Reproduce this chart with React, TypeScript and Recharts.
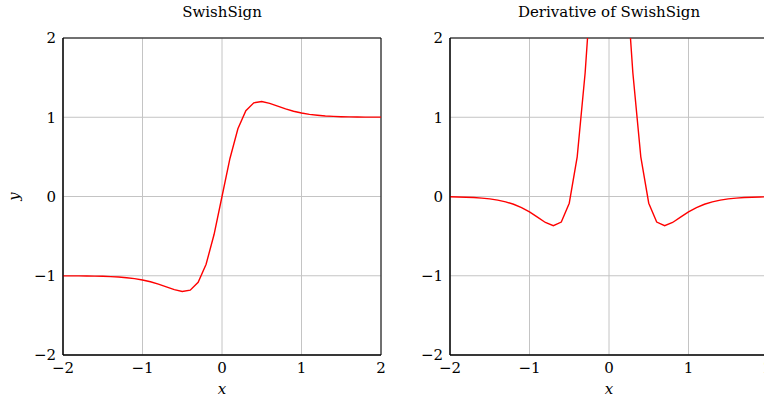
import { LineChart, Line, XAxis, YAxis, CartesianGrid, ReferenceArea, Label } from 'recharts';

const xs = [
  -2.0, -1.9, -1.8, -1.7, -1.6, -1.5, -1.4, -1.3, -1.2, -1.1, -1.0, -0.9, -0.8, -0.7, -0.6, -0.5, -0.4, -0.3, -0.2, -0.1,
  0.0, 0.1, 0.2, 0.3, 0.4, 0.5, 0.6, 0.7, 0.8, 0.9, 1.0, 1.1, 1.2, 1.3, 1.4, 1.5, 1.6, 1.7, 1.8, 1.9, 2.0,
];

const swishSign = [
  -1.001, -1.001, -1.002, -1.003, -1.005, -1.007, -1.011, -1.016, -1.025, -1.036, -1.053, -1.076, -1.105, -1.14, -1.176,
  -1.199, -1.182, -1.083, -0.855, -0.48, 0.0, 0.48, 0.855, 1.083, 1.182, 1.199, 1.176, 1.14, 1.105, 1.076, 1.053, 1.036,
  1.025, 1.016, 1.011, 1.007, 1.005, 1.003, 1.002, 1.001, 1.001,
];

const swishSignDeriv = [
  -0.004, -0.006, -0.009, -0.013, -0.02, -0.03, -0.045, -0.067, -0.098, -0.14, -0.195, -0.261, -0.328, -0.368, -0.323,
  -0.085, 0.501, 1.562, 3.024, 4.412, 5.0, 4.412, 3.024, 1.562, 0.501, -0.085, -0.323, -0.368, -0.328, -0.261, -0.195,
  -0.14, -0.098, -0.067, -0.045, -0.03, -0.02, -0.013, -0.009, -0.006, -0.004,
];

const ticks = [-2, -1, 0, 1, 2];

const FONT = 'DejaVu Serif, Liberation Serif, serif';
const fmt = (v: number) => (v < 0 ? `\u2212${-v}` : `${v}`);

function Panel({ title, values, left, yLabel }: { title: string; values: number[]; left: number; yLabel?: string }) {
  const data = xs.map((x, i) => ({ x, y: values[i] }));
  const tickStyle = { fill: '#000', fontSize: 15, fontFamily: FONT };
  return (
    <div style={{ position: 'absolute', left, top: 0, width: 400, height: 402 }}>
      <div
        style={{
          position: 'absolute',
          left: 63,
          width: 318,
          top: 3,
          textAlign: 'center',
          fontFamily: FONT,
          fontSize: 15,
          color: '#000',
        }}
      >
        {title}
      </div>
      <LineChart width={400} height={402} data={data} margin={{ top: 38, right: 19, bottom: 0, left: 0 }}>
        <CartesianGrid stroke="#c4c4c4" strokeWidth={1} />
        <XAxis
          dataKey="x"
          type="number"
          domain={[-2, 2]}
          ticks={ticks}
          allowDataOverflow
          height={47}
          tickSize={0}
          tickMargin={7}
          tickFormatter={fmt}
          tick={tickStyle}
          axisLine={{ stroke: '#000' }}
        >
          <Label value="x" position="insideBottom" offset={8} style={{ ...tickStyle, fontStyle: 'italic' }} />
        </XAxis>
        <YAxis
          type="number"
          domain={[-2, 2]}
          ticks={ticks}
          allowDataOverflow
          width={63}
          tickSize={0}
          tickMargin={7}
          tickFormatter={fmt}
          tick={tickStyle}
          axisLine={{ stroke: '#000' }}
        >
          {yLabel && (
            <Label
              value={yLabel}
              angle={-90}
              position="insideLeft"
              offset={14}
              style={{ ...tickStyle, fontStyle: 'italic', textAnchor: 'middle' }}
            />
          )}
        </YAxis>
        <ReferenceArea x1={-2} x2={2} y1={-2} y2={2} fill="none" stroke="#000" strokeWidth={1} />
        <Line type="linear" dataKey="y" stroke="#ff0000" strokeWidth={1.4} dot={false} isAnimationActive={false} />
      </LineChart>
    </div>
  );
}

export default function App() {
  return (
    <div style={{ position: 'fixed', left: 0, top: 0, width: 764, height: 402, overflow: 'hidden', background: '#fff' }}>
      <Panel title="SwishSign" values={swishSign} left={0} yLabel="y" />
      <Panel title="Derivative of SwishSign" values={swishSignDeriv} left={387} />
    </div>
  );
}
